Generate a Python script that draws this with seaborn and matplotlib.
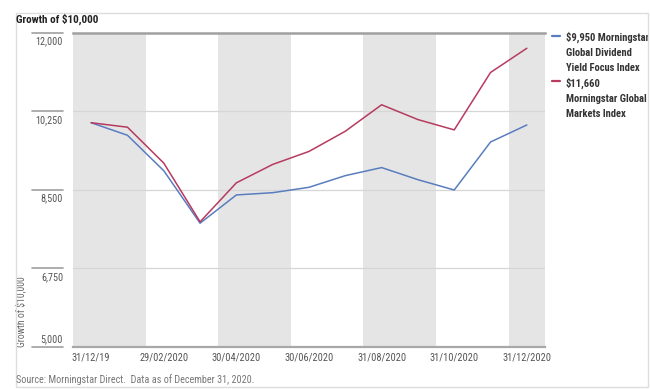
import matplotlib
matplotlib.use("Agg")
import matplotlib.pyplot as plt
import matplotlib.transforms as mtransforms
from matplotlib import font_manager as fm
from matplotlib.patches import Rectangle
import seaborn as sns
import pandas as pd

# ---------------- data ----------------
dates = ["31/12/19", "31/01/2020", "29/02/2020", "31/03/2020", "30/04/2020",
         "31/05/2020", "30/06/2020", "31/07/2020", "31/08/2020", "30/09/2020",
         "31/10/2020", "30/11/2020", "31/12/2020"]
dividend = [10000, 9720, 8930, 7760, 8390, 8440, 8560, 8820, 9000, 8730, 8500, 9570, 9950]
markets = [10000, 9900, 9100, 7790, 8660, 9070, 9360, 9810, 10400, 10070, 9840, 11120, 11660]
series_names = ["$9,950 Morningstar\nGlobal Dividend\nYield Focus Index",
                "$11,660\nMorningstar Global\nMarkets Index"]
yticks = [5000, 6750, 8500, 10250, 12000]
ytick_labels = ["5,000", "6,750", "8,500", "10,250", "12,000"]
xtick_idx = [0, 2, 4, 6, 8, 10, 12]

df = pd.DataFrame({
    "idx": list(range(len(dates))) * 2,
    "value": dividend + markets,
    "series": [series_names[0]] * len(dates) + [series_names[1]] * len(dates),
})

# ---------------- style ----------------
sns.set_theme(style="white")
names = {f.name for f in fm.fontManager.ttflist}
family = "DejaVu Sans"
stretch = "condensed"
for cand in ["Roboto Condensed", "Liberation Sans Narrow", "Arial Narrow"]:
    if cand in names:
        family = cand
        stretch = "normal"
        break
plt.rcParams["font.family"] = [family, "DejaVu Sans"]
plt.rcParams["font.stretch"] = stretch

fig = plt.figure(figsize=(6.5, 3.89), dpi=100)
ax = fig.add_axes([73 / 650, 1 - 347 / 389, 472 / 650, 314 / 389])

# alternating bands (pairs of periods)
n = len(dates)
for start in range(0, n, 4):
    ax.axvspan(start - 0.5, min(start + 1.5, n - 0.5), color="#e5e5e5", lw=0, zorder=0)

# gridlines
for v in yticks[1:-1]:
    ax.axhline(v, color="#d6d6d6", lw=0.9, zorder=1)

palette = {series_names[0]: "#5a7dbf", series_names[1]: "#b73a5f"}
sns.lineplot(data=df, x="idx", y="value", hue="series", palette=palette,
             linewidth=1.1, ax=ax, zorder=3)

ax.set_xlim(-0.5, n - 0.5)
ax.set_ylim(yticks[0], yticks[-1])
ax.set_xticks(xtick_idx)
ax.set_xticklabels([dates[i] for i in xtick_idx])
ax.tick_params(axis="x", length=0, pad=4, labelsize=7.5, labelcolor="#555555")
ax.set_yticks(yticks)
ax.set_yticklabels([])
ax.tick_params(axis="y", length=0)
ax.set_xlabel("")

for s in ["left", "right"]:
    ax.spines[s].set_visible(False)
ax.spines["bottom"].set_color("#a8a8a8")
ax.spines["bottom"].set_linewidth(1.6)
ax.spines["top"].set_color("#a0a0a0")
ax.spines["top"].set_linewidth(1.8)

# y tick labels placed under short lines left of the plot
blend = mtransforms.blended_transform_factory(ax.transAxes, ax.transData)
x0 = (32 - 73) / 472
x1 = (63 - 73) / 472
for v, lab in zip(yticks, ytick_labels):
    ax.plot([x0, x1], [v, v], transform=blend, color="#a0a0a0", lw=1.2, clip_on=False)
    if v == yticks[0]:
        ax.annotate(lab, xy=(x1, v), xycoords=blend, xytext=(0, 2), textcoords="offset points",
                    ha="right", va="bottom", fontsize=7.3, color="#555555")
    else:
        ax.annotate(lab, xy=(x1, v), xycoords=blend, xytext=(0, -2.5), textcoords="offset points",
                    ha="right", va="top", fontsize=7.3, color="#555555")

ax.set_ylabel("Growth of $10,000", loc="bottom", fontsize=7, color="#666666")
ax.yaxis.set_label_coords(-0.1, 0)

# legend
leg = ax.legend(loc="upper left", bbox_to_anchor=(552 / 650, 1 - 32 / 389),
                bbox_transform=fig.transFigure, frameon=False, fontsize=7.6,
                handlelength=0.8, handletextpad=0.5, labelspacing=0.4,
                borderpad=0, borderaxespad=0)
for t in leg.get_texts():
    t.set_color("#333333")
    t.set_fontweight("bold")
    t.set_linespacing(1.62)
for line in leg.get_lines():
    line.set_linewidth(1.6)
try:
    for col in leg._legend_handle_box.get_children():
        for hp in col.get_children():
            hp.align = "top"
except Exception:
    pass

# title and source
fig.text(16 / 650, 1 - 19 / 389, "Growth of $10,000", fontsize=8, fontweight="bold",
         color="#222222", ha="left", va="center")
fig.text(16 / 650, 1 - 380 / 389, "Source: Morningstar Direct.  Data as of December 31, 2020.",
         fontsize=7.3, color="#777777", ha="left", va="center")

# light panel frame
fig.patches.append(Rectangle((16 / 650, 1 - 387 / 389), (648 - 16) / 650, (387 - 13) / 389,
                             transform=fig.transFigure, fill=False, edgecolor="#dddddd", lw=1))

fig.savefig("out.png", dpi=100)
